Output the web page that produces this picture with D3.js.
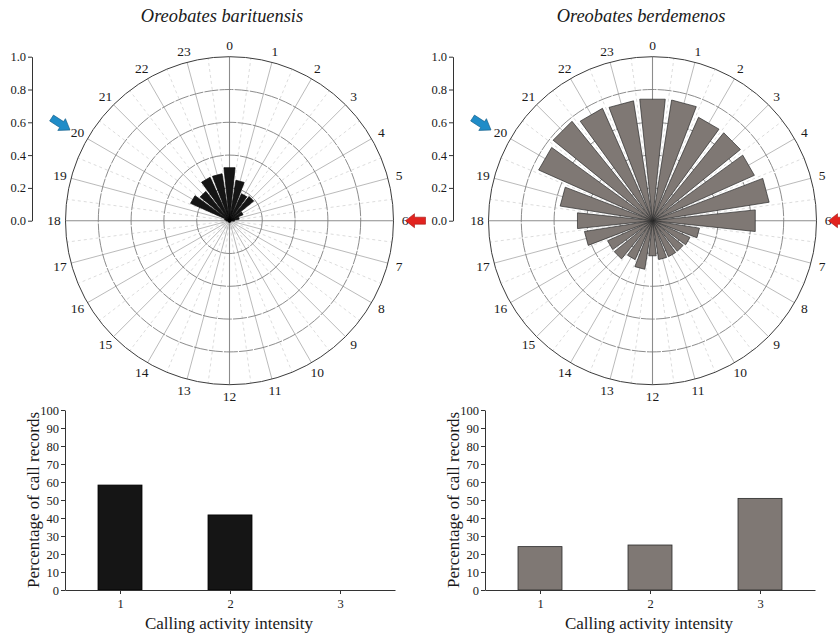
<!DOCTYPE html>
<html>
<head>
<meta charset="utf-8">
<script src="https://cdn.jsdelivr.net/npm/d3@7"></script>
<style>
  body { margin: 0; background: #fff; }
  svg { display: block; }
  text { font-family: "Liberation Serif", "Times New Roman", serif; fill: #1a1a1a; }
</style>
</head>
<body>
<svg id="chart" width="840" height="635"></svg>
<script>
// Hourly proportion of call records (hour 0 = midnight, clockwise)
const hours = d3.range(24);
const barituensisHourly = [0.325, 0.25, 0.18, 0.19, 0.09, 0.06, 0.03, 0.01, 0.01, 0.01, 0.01, 0.01,
                           0.01, 0.01, 0.01, 0.01, 0.01, 0.01, 0.02, 0.03, 0.26, 0.23, 0.29, 0.29];
const berdemenosHourly = [0.745, 0.745, 0.69, 0.69, 0.68, 0.72, 0.63, 0.29, 0.25, 0.24, 0.24, 0.24,
                          0.215, 0.30, 0.26, 0.30, 0.30, 0.42, 0.46, 0.57, 0.76, 0.78, 0.75, 0.74];
// Percentage of call records per calling activity intensity level
const intensityLevels = [1, 2, 3];
const barituensisIntensity = [58.3, 41.7, 0];
const berdemenosIntensity = [24.1, 25.0, 50.9];
const speciesNames = ["Oreobates barituensis", "Oreobates berdemenos"];
const radialTicks = [0, 0.2, 0.4, 0.6, 0.8, 1.0];
const ringTicks = [0.2, 0.4, 0.6, 0.8];
const percentTicks = d3.range(0, 101, 10);

const svg = d3.select("#chart");

const panels = [
  { name: speciesNames[0], hourly: barituensisHourly, intensity: barituensisIntensity,
    fill: "#151515", stroke: "#000", titleX: 222, cx: 229.5, axisX: 32, barX0: 65 },
  { name: speciesNames[1], hourly: berdemenosHourly, intensity: berdemenosIntensity,
    fill: "#7f7874", stroke: "#2a2a2a", titleX: 641, cx: 652.5, axisX: 453, barX0: 485 }
];

const cy = 220.7, R = 164;
const toRad = h => h * Math.PI / 12;         // hour -> angle (clockwise from north)
const pt = (cx, r, a) => [cx + r * Math.sin(a), cy - r * Math.cos(a)];

function arrowPath(len, shaft, head, headLen) {
  // arrow pointing along +x with its tip at the origin
  const p = d3.path();
  p.moveTo(0, 0);
  p.lineTo(-headLen, -head / 2);
  p.lineTo(-headLen, -shaft / 2);
  p.lineTo(-len, -shaft / 2);
  p.lineTo(-len, shaft / 2);
  p.lineTo(-headLen, shaft / 2);
  p.lineTo(-headLen, head / 2);
  p.closePath();
  return p.toString();
}

panels.forEach((P, i) => {
  const g = svg.append("g");
  const r = d3.scaleLinear().domain([0, 1]).range([0, R]);

  // species title
  g.append("text").attr("x", P.titleX).attr("y", 22)
    .attr("text-anchor", "middle").style("font-style", "italic").style("font-size", "18.4px")
    .text(P.name);

  // radial grid: half-hour dashed guides, hour spokes, value rings
  const grid = g.append("g");
  d3.range(48).filter(k => k % 2 === 1).forEach(k => {
    const a = k * Math.PI / 24, e = pt(P.cx, R, a);
    grid.append("line").attr("x1", P.cx).attr("y1", cy).attr("x2", e[0]).attr("y2", e[1])
      .attr("stroke", "#cdcdcd").attr("stroke-width", 0.7).attr("stroke-dasharray", "3,3");
  });
  hours.forEach(h => {
    const a = toRad(h), e = pt(P.cx, R, a);
    grid.append("line").attr("x1", P.cx).attr("y1", cy).attr("x2", e[0]).attr("y2", e[1])
      .attr("stroke", h % 6 === 0 ? "#8c8c8c" : "#a8a8a8").attr("stroke-width", h % 6 === 0 ? 1.1 : 0.8);
  });
  ringTicks.forEach(t => {
    grid.append("circle").attr("cx", P.cx).attr("cy", cy).attr("r", r(t))
      .attr("fill", "none").attr("stroke", "#777").attr("stroke-width", 0.85)
      .attr("stroke-dasharray", "14,1.2");
  });
  grid.append("circle").attr("cx", P.cx).attr("cy", cy).attr("r", r(1))
    .attr("fill", "none").attr("stroke", "#3c3c3c").attr("stroke-width", 1);

  // hourly wedges
  const half = 6 * Math.PI / 180;
  g.append("g").selectAll("path").data(hours).join("path")
    .attr("d", h => {
      const a = toRad(h), v = r(P.hourly[h]);
      return d3.line()([[P.cx, cy], pt(P.cx, v, a - half), pt(P.cx, v, a + half)]) + "Z";
    })
    .attr("fill", P.fill).attr("stroke", P.stroke).attr("stroke-width", 0.7)
    .attr("stroke-linejoin", "miter");

  // hour labels
  g.append("g").selectAll("text").data(hours).join("text")
    .attr("x", h => pt(P.cx, R + 11.5, toRad(h))[0])
    .attr("y", h => pt(P.cx, R + 11.5, toRad(h))[1])
    .attr("text-anchor", "middle").attr("dominant-baseline", "central")
    .style("font-size", "13.5px").text(h => h);

  // radial value axis
  const ry = d3.scaleLinear().domain([0, 1]).range([cy, cy - R]);
  const ax = g.append("g").attr("transform", `translate(${P.axisX},0)`)
    .call(d3.axisLeft(ry).tickValues(radialTicks).tickFormat(d3.format(".1f"))
      .tickSize(4).tickSizeOuter(0).tickPadding(2));
  ax.selectAll("path,line").attr("stroke", "#333");
  ax.selectAll("text").style("font-size", "12.5px").style("font-family", "Liberation Serif, serif").attr("fill", "#1a1a1a");

  // dusk / dawn markers
  const blueTip = [P.axisX + 38, 130];
  g.append("path").attr("d", arrowPath(22, 7, 14, 10))
    .attr("transform", `translate(${blueTip[0]},${blueTip[1]}) rotate(33)`)
    .attr("fill", "#1f8cc8").attr("stroke", "#155f8a").attr("stroke-width", 0.6);
  const redTip = [P.cx + 176, cy];
  g.append("path").attr("d", arrowPath(20, 7, 14, 9))
    .attr("transform", `translate(${redTip[0]},${redTip[1]}) rotate(180)`)
    .attr("fill", "#e2231f").attr("stroke", "#a5120f").attr("stroke-width", 0.6);

  // intensity bar chart
  const x = d3.scaleLinear().domain([0.5, 3.5]).range([P.barX0, P.barX0 + 330]);
  const y = d3.scaleLinear().domain([0, 100]).range([590, 410]);
  const bw = 44;
  g.append("g").selectAll("rect").data(intensityLevels).join("rect")
    .attr("x", d => x(d) - bw / 2).attr("width", bw)
    .attr("y", (d, k) => y(P.intensity[k])).attr("height", (d, k) => y(0) - y(P.intensity[k]))
    .attr("fill", P.fill).attr("stroke", P.stroke).attr("stroke-width", 0.8)
    .style("display", (d, k) => P.intensity[k] > 0 ? null : "none");

  const yAx = g.append("g").attr("transform", `translate(${P.barX0},0)`)
    .call(d3.axisLeft(y).tickValues(percentTicks).tickSize(4).tickSizeOuter(0).tickPadding(2));
  const xAx = g.append("g").attr("transform", `translate(0,${y(0)})`)
    .call(d3.axisBottom(x).tickValues(intensityLevels).tickFormat(d3.format("d"))
      .tickSize(4).tickSizeOuter(0).tickPadding(5));
  [yAx, xAx].forEach(a => {
    a.selectAll("path,line").attr("stroke", "#333");
    a.selectAll("text").style("font-size", "12.5px").style("font-family", "Liberation Serif, serif").attr("fill", "#1a1a1a");
  });

  g.append("text").attr("transform", `translate(${P.barX0 - 26},${y(50)}) rotate(-90)`)
    .attr("text-anchor", "middle").style("font-size", "17px").text("Percentage of call records");
  g.append("text").attr("x", P.barX0 + 164).attr("y", 629)
    .attr("text-anchor", "middle").style("font-size", "17px").text("Calling activity intensity");
});
</script>
</body>
</html>
